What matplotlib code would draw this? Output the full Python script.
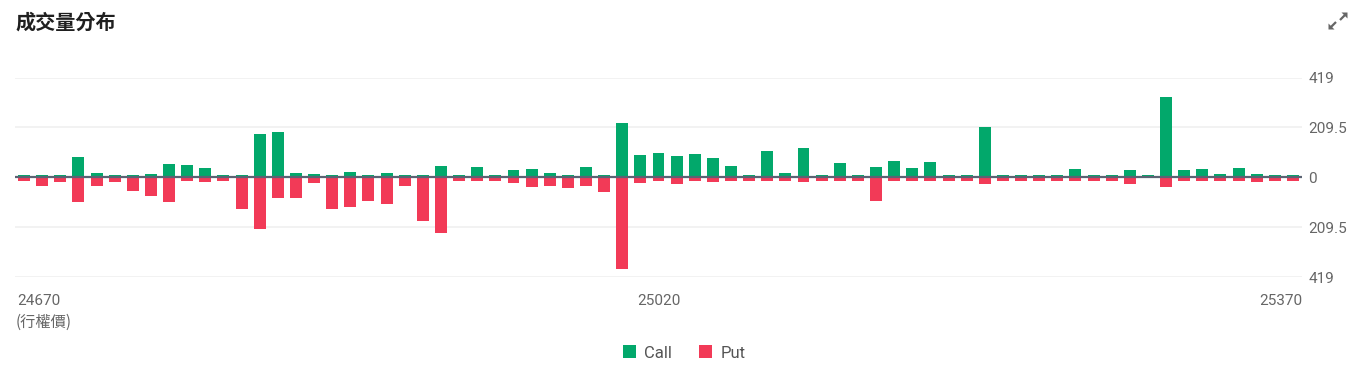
import matplotlib
matplotlib.use('Agg')
import matplotlib.pyplot as plt
from matplotlib.patches import Patch, Polygon
from matplotlib.lines import Line2D
import numpy as np

# -- Data: volume per strike --
strikes = list(range(24670, 25371, 10))
call_vol = [10, 10, 10, 86, 17, 10, 10, 13, 58, 53,
            38, 10, 10, 184, 190, 20, 13, 11, 21, 10,
            17, 11, 10, 49, 11, 45, 10, 29, 34, 20,
            11, 45, 10, 230, 93, 102, 91, 100, 83, 49,
            10, 111, 20, 124, 11, 62, 11, 45, 70, 41,
            65, 10, 10, 212, 11, 10, 10, 10, 37, 10,
            10, 32, 11, 336, 32, 35, 15, 39, 15, 10,
            10]
put_vol = [17, 38, 21, 102, 34, 21, 55, 77, 105, 17,
           18, 17, 131, 218, 87, 88, 24, 133, 126, 98,
           112, 35, 181, 232, 17, 17, 17, 22, 42, 35,
           46, 38, 62, 386, 22, 17, 28, 17, 21, 17,
           17, 17, 17, 18, 17, 17, 17, 98, 17, 17,
           17, 17, 17, 29, 17, 17, 17, 17, 17, 17,
           17, 28, 0, 42, 17, 17, 17, 17, 21, 17,
           17]
y_max = 419
tick_idx = [0, 35, 70]

# -- Styling --
CALL_COLOR = '#02a86b'
PUT_COLOR = '#f23a57'
ZERO_COLOR = '#5b6373'
GRID_COLOR = '#f0f0f0'
TEXT_COLOR = '#666666'
TITLE_COLOR = '#1f1f1f'
W, H = 1362, 369

plt.rcParams['font.family'] = ['Roboto', 'Noto Sans CJK TC', 'DejaVu Sans']

fig = plt.figure(figsize=(W / 100, H / 100), dpi=100)
fig.patch.set_facecolor('white')
ax = fig.add_axes([15 / W, 1 - 277.3 / H, (1302 - 15) / W, (277.3 - 77.5) / H])

x = np.arange(len(strikes))
ax.bar(x, call_vol, width=0.66, color=CALL_COLOR, zorder=2)
ax.bar(x, [-v for v in put_vol], width=0.66, color=PUT_COLOR, zorder=2)

for yv in [y_max, y_max / 2, -y_max / 2, -y_max]:
    ax.axhline(yv, color=GRID_COLOR, linewidth=1.2, zorder=0)
ax.axhline(0, color=ZERO_COLOR, linewidth=1.6, zorder=3)

ax.set_xlim(-0.5, len(strikes) - 0.5)
ax.set_ylim(-y_max, y_max)

# first label sits at the left edge, last one ends at the right edge
ax.set_xticks([-0.4, tick_idx[1], len(strikes) - 0.5])
ax.set_xticklabels([str(strikes[i]) for i in tick_idx])
xlabels = ax.get_xticklabels()
xlabels[0].set_horizontalalignment('left')
xlabels[-1].set_horizontalalignment('right')
ax.tick_params(axis='x', length=0, pad=12, labelsize=11, colors=TEXT_COLOR)

yticks = [y_max, y_max / 2, 0, -y_max / 2, -y_max]
ax.yaxis.tick_right()
ax.set_yticks(yticks)
ax.set_yticklabels(['419', '209.5', '0', '209.5', '419'])
ax.tick_params(axis='y', length=0, pad=4.5, labelsize=11, colors=TEXT_COLOR)

for spine in ax.spines.values():
    spine.set_visible(False)

# strike label under the first tick
fig.text(16 / W, 1 - 322 / H, '(行權價)', fontsize=11, color=TEXT_COLOR,
         ha='left', va='center', family=['Noto Sans CJK TC', 'DejaVu Sans'])

# title
fig.text(15 / W, 1 - 22 / H, '成交量分布', fontsize=14.5, color=TITLE_COLOR,
         ha='left', va='center', fontweight='bold',
         family=['Noto Sans CJK TC', 'DejaVu Sans'])


# expand icon (top right), drawn in pixel positions
def px(pts):
    return [(a / W, 1 - b / H) for a, b in pts]


ICON = '#666666'
for line, head in [([(1340, 20), (1345, 15)], [(1347.5, 12.5), (1341.5, 12.5), (1347.5, 18.5)]),
                   ([(1336, 22), (1331, 27)], [(1328.5, 29.5), (1334.5, 29.5), (1328.5, 23.5)])]:
    (xa, ya), (xb, yb) = px(line)
    fig.add_artist(Line2D([xa, xb], [ya, yb], transform=fig.transFigure,
                          color=ICON, linewidth=1.6, solid_capstyle='butt'))
    fig.add_artist(Polygon(px(head), closed=True, transform=fig.transFigure,
                           facecolor=ICON, edgecolor='none'))

# legend
handles = [Patch(facecolor=CALL_COLOR, label='Call'),
           Patch(facecolor=PUT_COLOR, label='Put')]
leg = fig.legend(handles=handles, loc='center', bbox_to_anchor=(684 / W, 1 - 353 / H),
                 ncol=2, frameon=False, fontsize=12, handlelength=0.8, handleheight=0.8,
                 handletextpad=0.5, columnspacing=1.6)
for t in leg.get_texts():
    t.set_color('#555555')

fig.savefig('out.png', dpi=100, facecolor='white')
plt.close()
